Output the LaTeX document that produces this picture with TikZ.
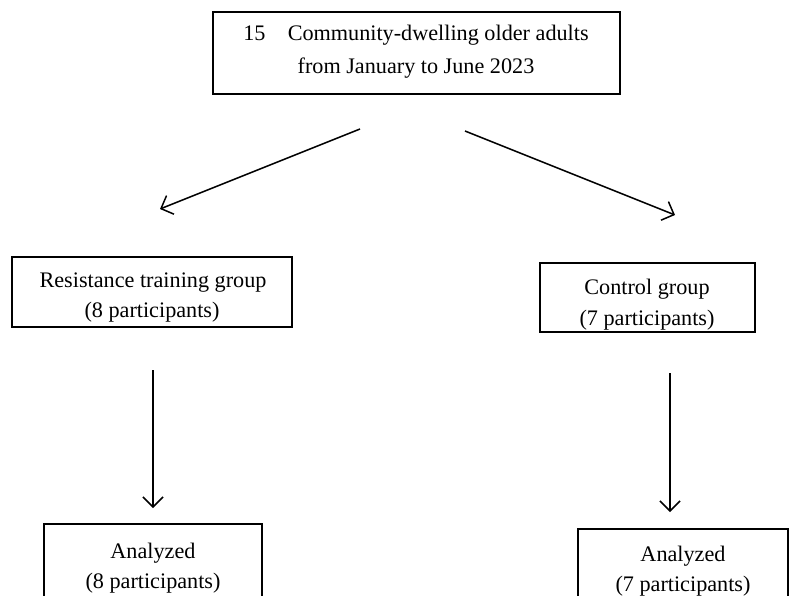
\documentclass[tikz,border=0pt]{standalone}
\usepackage{fontspec}
\setmainfont{Liberation Serif}
\usetikzlibrary{arrows.meta}
\tikzset{
  box/.style={draw, line width=0.75pt, inner sep=0pt},
  txt/.style={anchor=base, inner sep=0pt, font=\fontsize{11.1}{14}\selectfont},
  conn/.style={line width=0.75pt, -{Straight Barb[length=5pt,width=10pt,line width=0.75pt]}}
}
\begin{document}
\begin{tikzpicture}[x=0.5pt,y=-0.5pt]
\useasboundingbox (0,0) rectangle (809,595);
% boxes
\node[box, minimum width=203.5pt, minimum height=41pt] (top) at (416.5,53) {};
\node[box, minimum width=140pt, minimum height=35pt] (rt) at (152,292) {};
\node[box, minimum width=107.5pt, minimum height=34.5pt] (cg) at (647.5,297.5) {};
\node[box, minimum width=109pt, minimum height=50pt, anchor=north] (art) at (153,523) {};
\node[box, minimum width=105pt, minimum height=50pt, anchor=north] (acg) at (683,528) {};
% texts
\node[txt] (top1) at (416,40) {15\quad Community-dwelling older adults};
\node[txt] (top2) at (416,73) {from January to June 2023};
\node[txt] (rt1) at (153,287) {Resistance training group};
\node[txt] (rt2) at (152,317) {(8 participants)};
\node[txt] (cg1) at (647,294) {Control group};
\node[txt] (cg2) at (647,325) {(7 participants)};
\node[txt] (art1) at (153,558) {Analyzed};
\node[txt] (art2) at (153,588) {(8 participants)};
\node[txt] (acg1) at (683,561) {Analyzed};
\node[txt] (acg2) at (683,591) {(7 participants)};
% connectors
\coordinate (a1s) at (360,129); \coordinate (a1e) at (160,209);
\coordinate (a2s) at (465,131); \coordinate (a2e) at (675,215);
\coordinate (a3s) at (153,370); \coordinate (a3e) at (153,508);
\coordinate (a4s) at (670,373); \coordinate (a4e) at (670,512);
\draw[conn] (a1s) -- (a1e);
\draw[conn] (a2s) -- (a2e);
\draw[conn] (a3s) -- (a3e);
\draw[conn] (a4s) -- (a4e);
\end{tikzpicture}
\end{document}
